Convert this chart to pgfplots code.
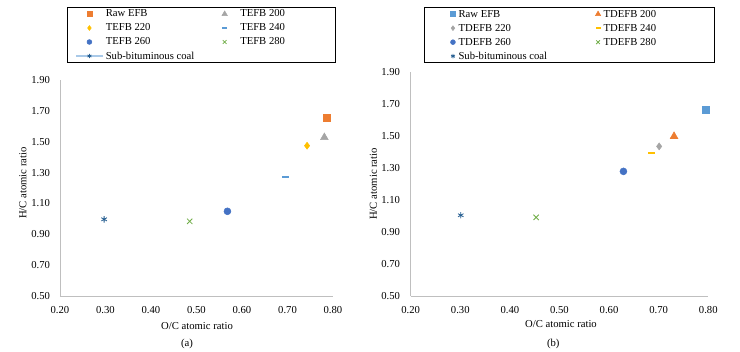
\documentclass[border=0pt]{standalone}
\usepackage{fontspec}
\setmainfont{Liberation Serif}
\usepackage{pgfplots}
\pgfplotsset{compat=1.18}

\definecolor{cOrange}{HTML}{ED7D31}
\definecolor{cGray}{HTML}{A5A5A5}
\definecolor{cGold}{HTML}{FFC000}
\definecolor{cLBlue}{HTML}{5B9BD5}
\definecolor{cBlue}{HTML}{4472C4}
\definecolor{cGreen}{HTML}{70AD47}
\definecolor{cDark}{HTML}{255E91}
\definecolor{cLine}{HTML}{A9C9E8}

\newcommand{\lf}{\fontsize{8}{9}\selectfont}

\pgfplotsset{
  hcstyle/.style={
    scale only axis,
    axis x line*=bottom, axis y line*=left,
    axis line style={draw=black!25, line width=0.6pt, -},
    major tick length=0pt,
    xmin=0.2, xmax=0.8, ymin=0.5, ymax=1.9,
    xtick={0.2,0.3,0.4,0.5,0.6,0.7,0.8},
    ytick={0.5,0.7,0.9,1.1,1.3,1.5,1.7,1.9},
    xticklabels={0.20,0.30,0.40,0.50,0.60,0.70,0.80},
    yticklabels={0.50,0.70,0.90,1.10,1.30,1.50,1.70,1.90},
    tick label style={font=\lf},
    xticklabel style={yshift=-4pt},
    yticklabel style={xshift=-4pt},
    clip=false,
    legend columns=2,
    legend cell align=left,
  },
}

\begin{document}
\begin{tikzpicture}
\useasboundingbox (0pt,0pt) rectangle (555pt,-263.25pt);

% legend frames
\draw[line width=0.6pt] (50.25pt,-5.25pt) rectangle (251.25pt,-46.5pt);
\draw[line width=0.6pt] (318pt,-5.25pt) rectangle (535.5pt,-46.5pt);

% ---------- (a) ----------
\begin{axis}[hcstyle,
  at={(45pt,-222pt)}, anchor=south west,
  width=204.75pt, height=162pt,
  ylabel={H/C atomic ratio},
  ylabel style={at={(axis description cs:-0.1355,0.523)}, anchor=center, font=\lf},
  legend image code/.code={
    \path (0pt,0pt) (20pt,0pt);
    \draw[mark repeat=2,mark phase=2,/tikz/every mark/.append style={scale=0.7}]
      plot coordinates {(0pt,0pt) (10pt,0pt) (20pt,0pt)};},
  legend style={at={(axis description cs:0.055,1.338)}, anchor=north west,
    draw=none, fill=none, inner sep=0pt, outer sep=0pt, font=\lf,
    nodes={text height=6pt, text depth=1.5pt, inner sep=1.5pt},
    /tikz/every even column/.append style={column sep=11pt}},
]
\addplot[only marks, mark=square*, color=cOrange, mark size=2.6pt] coordinates {(0.787,1.658)};
\addlegendentry{Raw EFB}
\addplot[only marks, mark=triangle*, color=cGray, mark size=3.3pt] coordinates {(0.781,1.528)};
\addlegendentry{TEFB 200}
\addplot[only marks, mark=diamond*, color=cGold, mark size=2.6pt] coordinates {(0.743,1.474)};
\addlegendentry{TEFB 220}
\addplot[only marks, mark=-, color=cLBlue, mark size=2.6pt, mark options={line width=1.5pt}] coordinates {(0.695,1.273)};
\addlegendentry{TEFB 240}
\addplot[only marks, mark=*, color=cBlue, mark size=2.6pt] coordinates {(0.568,1.049)};
\addlegendentry{TEFB 260}
\addplot[only marks, mark=x, color=cGreen, mark size=2.8pt, mark options={line width=0.6pt}] coordinates {(0.485,0.984)};
\addlegendentry{TEFB 280}
\addplot[draw=cLine, line width=1.6pt, mark=asterisk, mark size=2.4pt, mark options={draw=cDark, line width=0.6pt}] coordinates {(0.297,0.997)};
\addlegendentry{Sub-bituminous coal}
\node[font=\lf] at (axis description cs:0.502,-0.139) {O/C atomic ratio};
\node[font=\lf] at (axis description cs:0.465,-0.222) {(a)};
\end{axis}

% ---------- (b) ----------
\begin{axis}[hcstyle,
  at={(308pt,-222pt)}, anchor=south west,
  width=223.2pt, height=168.2pt,
  ylabel={H/C atomic ratio},
  ylabel style={at={(axis description cs:-0.125,0.5)}, anchor=center, font=\lf},
  yticklabel style={xshift=-0.5pt},
  legend image code/.code={
    \path (-2.5pt,0pt) (2.5pt,0pt);
    \draw[/tikz/every mark/.append style={scale=0.7}]
      plot coordinates {(0pt,0pt)};},
  legend style={at={(axis description cs:0.130,1.288)}, anchor=north west,
    draw=none, fill=none, inner sep=0pt, outer sep=0pt, font=\lf,
    nodes={text height=6pt, text depth=1.5pt, inner sep=1.5pt},
    /tikz/every even column/.append style={column sep=34pt}},
]
\addplot[only marks, mark=square*, color=cLBlue, mark size=2.6pt] coordinates {(0.795,1.665)};
\addlegendentry{Raw EFB}
\addplot[only marks, mark=triangle*, color=cOrange, mark size=3.3pt] coordinates {(0.731,1.497)};
\addlegendentry{TDEFB 200}
\addplot[only marks, mark=diamond*, color=cGray, mark size=2.6pt] coordinates {(0.701,1.434)};
\addlegendentry{TDEFB 220}
\addplot[only marks, mark=-, color=cGold, mark size=2.6pt, mark options={line width=1.5pt}] coordinates {(0.685,1.394)};
\addlegendentry{TDEFB 240}
\addplot[only marks, mark=*, color=cBlue, mark size=2.6pt] coordinates {(0.629,1.278)};
\addlegendentry{TDEFB 260}
\addplot[only marks, mark=x, color=cGreen, mark size=2.8pt, mark options={line width=0.6pt}] coordinates {(0.453,0.991)};
\addlegendentry{TDEFB 280}
\addplot[only marks, mark=asterisk, color=cDark, mark size=2.4pt, mark options={line width=0.6pt}] coordinates {(0.301,1.004)};
\addlegendentry{Sub-bituminous coal}
\node[font=\lf] at (axis description cs:0.505,-0.125) {O/C atomic ratio};
\node[font=\lf] at (axis description cs:0.479,-0.215) {(b)};
\end{axis}
\end{tikzpicture}
\end{document}
